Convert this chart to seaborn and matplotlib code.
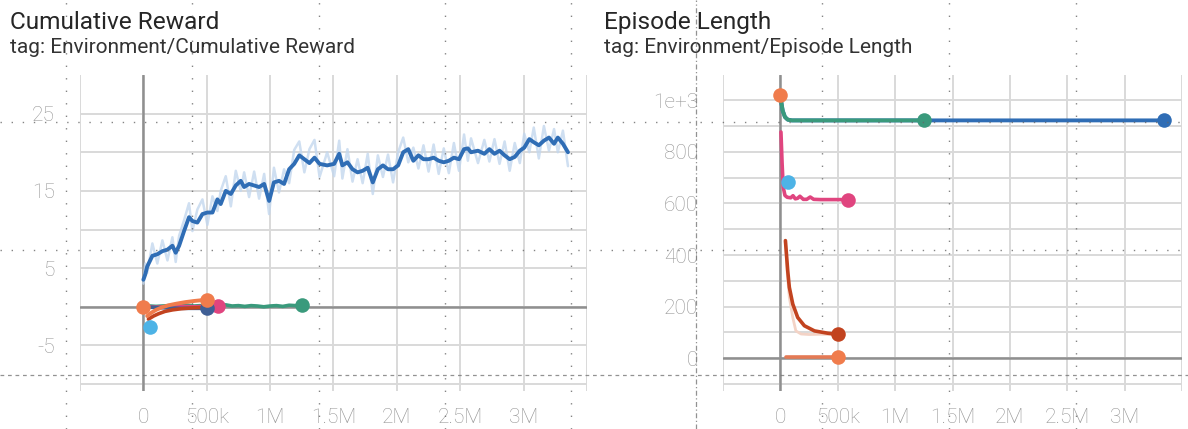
import numpy as np
import pandas as pd
import matplotlib
matplotlib.use("Agg")
import matplotlib.pyplot as plt
from matplotlib.lines import Line2D
import seaborn as sns

# ---------------- data ----------------
K = 1000
# Cumulative reward: long blue run (smoothed) and its raw values
blue_rew_x = [0, 15, 30, 71, 110, 150, 190, 229, 255, 282, 321, 360, 387, 426, 466, 505, 545, 584,
              610, 650, 690, 729, 768, 795, 834, 874, 913, 953, 992, 1030, 1070, 1110, 1150, 1190,
              1230, 1270, 1310, 1350, 1390, 1450, 1505, 1545, 1570, 1610, 1650, 1690, 1730, 1770,
              1810, 1850, 1890, 1930, 1970, 2010, 2050, 2090, 2130, 2170, 2210, 2250, 2290, 2330,
              2370, 2410, 2450, 2490, 2530, 2560, 2585, 2640, 2690, 2730, 2770, 2810, 2850, 2890,
              2930, 2970, 3005, 3045, 3080, 3120, 3160, 3200, 3240, 3270, 3310, 3350]
blue_rew_y = [3.5, 4.2, 5.2, 6.6, 6.8, 7.2, 7.4, 7.9, 7.0, 7.9, 9.8, 11.6, 11.1, 10.9, 12.0, 12.2, 12.2, 13.9,
              13.3, 15.0, 14.6, 15.7, 16.3, 15.5, 15.9, 15.7, 15.5, 15.9, 13.7, 16.1, 16.3, 15.9, 17.8, 18.5,
              19.6, 19.1, 18.6, 19.3, 18.5, 18.3, 18.5, 19.8, 18.3, 18.7, 17.8, 17.4, 17.6, 18.0,
              16.1, 17.8, 18.3, 17.8, 17.8, 18.3, 20.0, 20.4, 18.9, 19.6, 19.1, 19.1, 19.3, 18.9,
              18.7, 18.9, 19.3, 19.1, 20.4, 20.5, 20.0, 20.2, 19.8, 20.4, 19.8, 20.2, 19.6, 19.1,
              19.4, 20.2, 20.6, 21.7, 21.3, 20.9, 21.5, 21.9, 21.1, 21.9, 21.1, 20.0]
blue_rew_raw = [3.0, 5.6, 4.4, 8.2, 5.6, 8.6, 6.0, 9.0, 5.8, 9.2, 11.2, 13.4, 9.8, 12.6, 13.9, 10.6, 14.3, 12.4,
                15.0, 16.9, 13.0, 17.6, 15.0, 17.4, 14.2, 17.5, 14.0, 17.2, 12.0, 18.0, 14.8, 17.8, 16.0, 20.3,
                21.4, 17.4, 20.4, 21.6, 16.8, 20.0, 16.9, 21.5, 16.6, 20.4, 16.2, 19.1, 16.0, 19.8,
                14.6, 19.6, 16.8, 19.7, 16.1, 20.0, 21.9, 18.7, 20.6, 17.9, 20.9, 17.5, 21.0, 17.2,
                20.5, 17.3, 21.2, 17.6, 22.3, 18.9, 21.8, 18.6, 21.6, 18.8, 21.7, 18.5, 21.4, 17.6,
                21.2, 18.6, 22.4, 20.0, 23.2, 19.2, 23.4, 20.2, 23.0, 20.0, 22.8, 18.2]

green_rew_x = [0, 50, 100, 150, 200, 250, 300, 350, 400, 450, 500, 550, 600, 650, 700, 750, 800, 850,
               900, 950, 1000, 1050, 1100, 1150, 1200, 1250]
green_rew_y = [0.0, 0.1, 0.05, 0.1, 0.15, 0.05, 0.1, 0.2, 0.1, 0.15, 0.1, 0.2, 0.1, 0.25, 0.1, 0.15,
               0.05, 0.15, 0.1, 0.0, 0.1, 0.15, 0.05, 0.2, 0.15, 0.2]
pink_rew_x = [0, 100, 200, 300, 400, 500, 586]
pink_rew_y = [0.0, -0.05, 0.0, 0.05, 0.0, 0.05, 0.05]
slate_rew_x = [0, 100, 200, 300, 400, 500]
slate_rew_y = [0.0, -0.1, -0.15, -0.2, -0.2, -0.2]
red_rew_x = [40, 80, 120, 170, 230, 300, 380, 450, 500]
red_rew_y = [-1.6, -1.2, -0.9, -0.6, -0.4, -0.25, -0.15, -0.1, -0.1]
orange_rew_x = [30, 60, 100, 150, 200, 260, 330, 400, 460, 500]
orange_rew_y = [-1.2, -0.8, -0.4, -0.05, 0.2, 0.4, 0.6, 0.75, 0.85, 0.9]
orange0_rew = (0, 0.0)
cyan_rew = (52, -2.6)

# Episode length
blue_len_x = [0, 20, 40, 64, 100, 500, 1000, 1500, 2000, 2500, 3000, 3340]
blue_len_y = [1015, 960, 935, 925, 922, 922, 922, 922, 922, 922, 922, 922]
green_len_x = [0, 20, 40, 64, 100, 300, 600, 900, 1250]
green_len_y = [1015, 960, 935, 925, 922, 922, 922, 922, 922]
pink_len_x = [5, 15, 25, 40, 60, 90, 110, 130, 150, 170, 200, 230, 260, 290, 350, 450, 550, 588]
pink_len_y = [877, 755, 663, 631, 624, 622, 630, 618, 620, 628, 616, 616, 625, 616, 615, 615, 615, 615]
red_len_x = [44, 64, 78, 108, 151, 209, 297, 413, 500]
red_len_y = [456, 339, 275, 210, 158, 126, 106, 97, 93]
red_len_raw_x = [44, 60, 78, 108, 135, 180, 250, 350, 450, 500]
red_len_raw_y = [456, 330, 236, 158, 106, 94, 92, 93, 92, 92]
orange_len_x = [50, 150, 250, 350, 450, 500]
orange_len_y = [5, 5, 5, 5, 5, 5]
orange0_len = (0, 1020)
cyan_len = (64, 683)

x_ticks = [-500, 0, 500, 1000, 1500, 2000, 2500, 3000, 3500]
x_labels = ["", "0", "500k", "1M", "1.5M", "2M", "2.5M", "3M", ""]
rew_ticks = [-10, -5, 0, 5, 10, 15, 20, 25]
rew_labels = ["", "-5", "", "5", "", "15", "", "25"]
len_ticks = [-100, 0, 100, 200, 300, 400, 500, 600, 700, 800, 900, 1000]
len_labels = ["", "0", "", "200", "", "400", "", "600", "", "800", "", "1e+3"]

titles = ["Cumulative Reward", "Episode Length"]
subtitles = ["tag: Environment/Cumulative Reward", "tag: Environment/Episode Length"]

# ---------------- style ----------------
C_BLUE = "#2f6db5"
C_BLUE_RAW = "#c3d7ee"
C_GREEN = "#3a9a7c"
C_ORANGE = "#f07c4c"
C_ORANGE2 = "#e47a55"
C_PINK = "#e0457f"
C_CYAN = "#4db3e6"
C_RED = "#c2431f"
C_RED_RAW = "#f3d3c6"
C_SLATE = "#3f5f95"

sns.set_theme(style="white")
plt.rcParams["font.family"] = ["Roboto", "DejaVu Sans"]

W, H = 1188, 429
fig = plt.figure(figsize=(W / 100, H / 100), dpi=100)

top_px, bot_px = 75, 391
axL = fig.add_axes([80 / W, 1 - bot_px / H, (587 - 80) / W, (bot_px - top_px) / H])
axR = fig.add_axes([723 / W, 1 - bot_px / H, (1182 - 723) / W, (bot_px - top_px) / H])


def kx(xs):
    return [v * K for v in xs]


def line(ax, xs, ys, color, lw=2.8, z=3, alpha=1.0):
    df = pd.DataFrame({"x": kx(xs), "y": ys})
    sns.lineplot(data=df, x="x", y="y", ax=ax, color=color, linewidth=lw, estimator=None,
                 sort=False, zorder=z, alpha=alpha, legend=False)


def dot(ax, x, y, color, z=6):
    df = pd.DataFrame({"x": [x * K], "y": [y]})
    sns.scatterplot(data=df, x="x", y="y", ax=ax, color=color, s=110, linewidth=0, zorder=z, legend=False)


def frame(ax, ylim, yt, yl):
    ax.set_xlim(-500 * K, 3500 * K)
    ax.set_ylim(*ylim)
    ax.set_xticks([v * K for v in x_ticks])
    ax.set_xticklabels(x_labels)
    ax.set_yticks(yt)
    ax.set_yticklabels(yl)
    ax.grid(True, color="#d9d9d9", linewidth=1.4)
    for s in ax.spines.values():
        s.set_visible(False)
    ax.axhline(0, color="#8f8f8f", linewidth=1.8, zorder=1.5)
    ax.axvline(0, color="#8f8f8f", linewidth=1.8, zorder=1.5)
    ax.tick_params(axis="both", length=0, labelsize=15, labelcolor="#959595")
    ax.tick_params(axis="x", pad=12)
    ax.tick_params(axis="y", pad=18)
    for t in ax.get_xticklabels() + ax.get_yticklabels():
        t.set_fontweight("light")
    ax.set_xlabel("")
    ax.set_ylabel("")
    ax.set_facecolor("white")


# --- left: cumulative reward
line(axL, blue_rew_x, blue_rew_raw, C_BLUE_RAW, lw=1.8, z=2, alpha=0.8)
line(axL, blue_rew_x, blue_rew_y, C_BLUE, lw=2.8, z=3)
line(axL, green_rew_x, green_rew_y, C_GREEN, lw=2.6, z=3)
line(axL, pink_rew_x, pink_rew_y, C_PINK, lw=2.6, z=3)
line(axL, slate_rew_x, slate_rew_y, C_SLATE, lw=2.6, z=3.2)
line(axL, red_rew_x, red_rew_y, C_RED, lw=2.6, z=3.3)
line(axL, orange_rew_x, orange_rew_y, C_ORANGE, lw=2.8, z=3.4)
dot(axL, 1250, green_rew_y[-1], C_GREEN)
dot(axL, 586, pink_rew_y[-1], C_PINK)
dot(axL, 500, slate_rew_y[-1], C_SLATE)
dot(axL, 500, orange_rew_y[-1], C_ORANGE, z=6.5)
dot(axL, orange0_rew[0], orange0_rew[1], C_ORANGE)
dot(axL, cyan_rew[0], cyan_rew[1], C_CYAN, z=6.6)
frame(axL, (-10.9, 30), rew_ticks, rew_labels)

# --- right: episode length
line(axR, blue_len_x, blue_len_y, C_BLUE, lw=2.8, z=3)
line(axR, green_len_x, green_len_y, C_GREEN, lw=2.8, z=3.1)
line(axR, pink_len_x, pink_len_y, C_PINK, lw=2.6, z=3)
line(axR, red_len_raw_x, red_len_raw_y, C_RED_RAW, lw=2.0, z=2.5)
line(axR, red_len_x, red_len_y, C_RED, lw=2.6, z=3)
line(axR, orange_len_x, orange_len_y, C_ORANGE2, lw=2.6, z=3)
dot(axR, 3340, blue_len_y[-1], C_BLUE)
dot(axR, 1250, green_len_y[-1], C_GREEN)
dot(axR, 588, pink_len_y[-1], C_PINK)
dot(axR, 500, red_len_y[-1], C_RED)
dot(axR, 500, orange_len_y[-1], C_ORANGE)
dot(axR, orange0_len[0], orange0_len[1], C_ORANGE)
dot(axR, cyan_len[0], cyan_len[1], C_CYAN)
frame(axR, (-127, 1098), len_ticks, len_labels)

# titles
for xp, t, st in [(10, titles[0], subtitles[0]), (604, titles[1], subtitles[1])]:
    fig.text(xp / W, 1 - 29 / H, t, fontsize=17.6, color="#262626", ha="left", va="baseline")
    fig.text(xp / W, 1 - 53 / H, st, fontsize=15, color="#333333", ha="left", va="baseline")

# faint dotted overlay lines present in the source image
for yp in [122, 250]:
    fig.add_artist(Line2D([0, 1], [1 - yp / H] * 2, transform=fig.transFigure, color="#666666",
                          lw=1.0, ls=(0, (1, 7)), alpha=0.8, zorder=10))
fig.add_artist(Line2D([0, 1], [1 - 375 / H] * 2, transform=fig.transFigure, color="#777777",
                      lw=0.9, ls=(0, (3, 3)), alpha=0.8, zorder=10))
for xp in [66, 192, 319, 445, 571, 822, 949, 1076]:
    fig.add_artist(Line2D([xp / W] * 2, [0, 1], transform=fig.transFigure, color="#666666",
                          lw=1.0, ls=(0, (1, 8)), alpha=0.8, zorder=10))
fig.add_artist(Line2D([696 / W] * 2, [0, 1], transform=fig.transFigure, color="#777777",
                      lw=0.9, ls=(0, (4, 2, 1, 2)), alpha=0.8, zorder=10))

fig.savefig("out.png", dpi=100, facecolor="white")
